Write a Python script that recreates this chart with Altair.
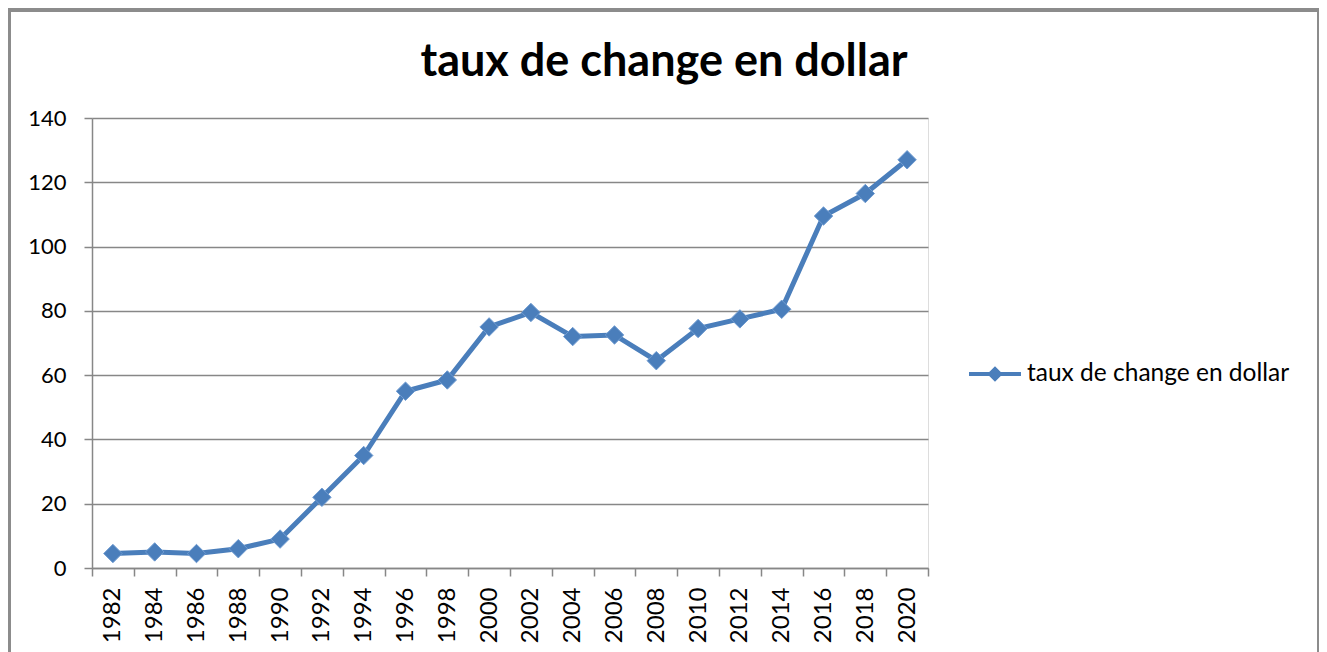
import altair as alt
import pandas as pd

years = ["1982", "1984", "1986", "1988", "1990", "1992", "1994", "1996", "1998", "2000",
         "2002", "2004", "2006", "2008", "2010", "2012", "2014", "2016", "2018", "2020"]
rates = [4.5, 5.0, 4.5, 6.0, 9.0, 22.0, 35.0, 55.0, 58.5, 75.0,
         79.5, 72.0, 72.5, 64.5, 74.5, 77.5, 80.5, 109.5, 116.5, 127.0]
series_name = "taux de change en dollar"
y_ticks = [0, 20, 40, 60, 80, 100, 120, 140]

df = pd.DataFrame({"annee": years, "taux": rates, "serie": [series_name] * len(years)})

BLUE = "#4A7EBB"
GRID = "#878787"
FONT = "Lato"

W, H = 836, 450

x_enc = alt.X("annee:N", sort=years,
              scale=alt.Scale(paddingInner=0, paddingOuter=0),
              axis=alt.Axis(title=None, labelAngle=-90, tickBand="extent",
                            labelFontSize=24, labelFont=FONT, labelColor="#000",
                            labelPadding=11, labelAlign="right", labelBaseline="middle",
                            tickSize=8, tickColor=GRID, tickWidth=1.5,
                            domainColor=GRID, domainWidth=1.5, grid=False))
y_enc = alt.Y("taux:Q", scale=alt.Scale(domain=[0, 140], nice=False),
              axis=alt.Axis(title=None, values=y_ticks, labelFontSize=22, labelFont=FONT,
                            labelColor="#000", labelPadding=18, tickSize=8, tickColor=GRID,
                            tickWidth=1.5, domainColor=GRID, domainWidth=1.5,
                            grid=True, gridColor=GRID, gridWidth=1.5))

frame = alt.Chart(df).mark_rect(fill=None, stroke="#8c8c8c", strokeWidth=2.5).encode(
    x=alt.value(-83), x2=alt.value(1227), y=alt.value(-108), y2=alt.value(580)
)

line = alt.Chart(df).mark_line(color=BLUE, strokeWidth=5).encode(x=x_enc, y=y_enc)

legend_symbol = "M-1,-0.08 H1 V0.08 H-1 Z M0,-0.3 L0.3,0 L0,0.3 L-0.3,0 Z"

points = alt.Chart(df).mark_point(shape="diamond", filled=True, size=340, opacity=1,
                                  stroke="#6f9bd1", strokeWidth=1).encode(
    x=x_enc, y=y_enc,
    color=alt.Color("serie:N", scale=alt.Scale(range=[BLUE]),
                    legend=alt.Legend(title=None, orient="none", legendX=877, legendY=230,
                                      symbolType=legend_symbol, symbolSize=2700,
                                      symbolStrokeWidth=0, symbolOpacity=1,
                                      labelFontSize=24.5, labelFont=FONT, labelColor="#000",
                                      labelOffset=6, labelLimit=400))
)

chart = alt.layer(frame, line, points).properties(
    width=W, height=H,
    title=alt.Title(series_name, fontSize=45, font=FONT, fontWeight="bold", color="#000",
                    anchor="middle", dx=154, offset=-76),
    autosize=alt.AutoSizeParams(type="none"),
    padding={"left": 84, "top": 110, "right": 391, "bottom": 90},
).configure_view(stroke=None).configure(background="white")

chart.save("out.html", embed_options={"renderer": "svg", "actions": False})
